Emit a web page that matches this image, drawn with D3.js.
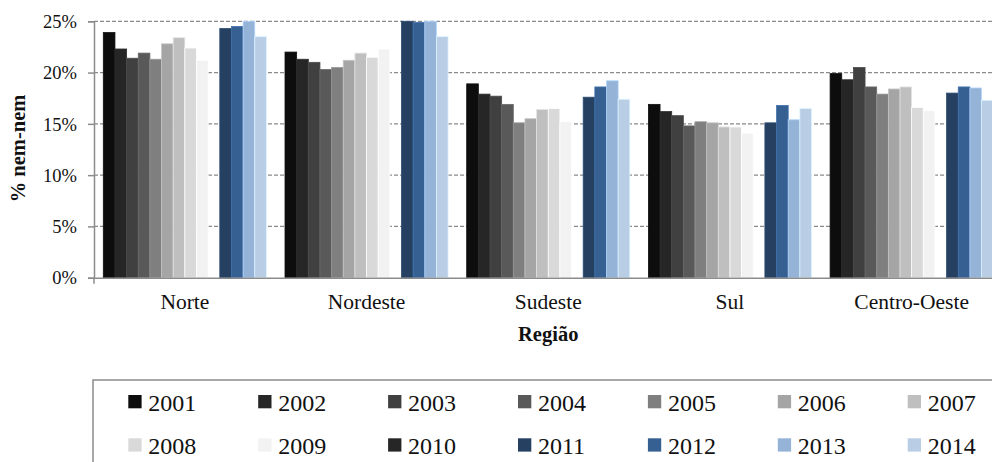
<!DOCTYPE html>
<html>
<head>
<meta charset="utf-8">
<script src="https://cdn.jsdelivr.net/npm/d3@7"></script>
<style>
  html, body { margin: 0; padding: 0; background: #fff; }
  svg text { font-family: "Liberation Serif", "DejaVu Serif", serif; }
</style>
</head>
<body>
<svg id="chart" width="992" height="462"></svg>
<script>
// Regions on the x axis
const regions = ["Norte", "Nordeste", "Sudeste", "Sul", "Centro-Oeste"];
// Survey years (no survey in 2010, so that series is empty)
const years = ["2001","2002","2003","2004","2005","2006","2007","2008","2009","2010","2011","2012","2013","2014"];

// Share of "nem-nem" youth (%), one array per year, in region order
const y2001 = [23.9, 22.0, 18.9, 16.9, 19.9];
const y2002 = [22.3, 21.3, 17.9, 16.2, 19.3];
const y2003 = [21.4, 21.0, 17.7, 15.8, 20.5];
const y2004 = [21.9, 20.3, 16.9, 14.8, 18.6];
const y2005 = [21.3, 20.5, 15.1, 15.2, 17.9];
const y2006 = [22.8, 21.2, 15.5, 15.1, 18.4];
const y2007 = [23.4, 21.9, 16.4, 14.7, 18.6];
const y2008 = [22.4, 21.5, 16.5, 14.7, 16.6];
const y2009 = [21.2, 22.3, 15.2, 14.1, 16.3];
const y2010 = [null, null, null, null, null];
const y2011 = [24.3, 25.3, 17.6, 15.1, 18.0];
const y2012 = [24.5, 24.9, 18.6, 16.8, 18.6];
const y2013 = [25.2, 25.2, 19.2, 15.4, 18.5];
const y2014 = [23.5, 23.5, 17.4, 16.5, 17.3];
const seriesValues = [y2001, y2002, y2003, y2004, y2005, y2006, y2007, y2008, y2009, y2010, y2011, y2012, y2013, y2014];

// Y axis ticks (%)
const yTicks = [0, 5, 10, 15, 20, 25];

const colors = ["#0d0d0d","#262626","#404040","#595959","#7f7f7f","#a5a5a5","#bfbfbf","#d9d9d9","#f2f2f2",
                "#262626","#254061","#366092","#95b3d7","#b9cde5"];

const FONT = '"Liberation Serif", "DejaVu Serif", serif';

const svg = d3.select("#chart");
const plot = { left: 94, right: 1002.5, top: 21.3, bottom: 277.7 };

const x0 = d3.scaleBand().domain(regions).range([plot.left, plot.right]);
const x1 = d3.scaleBand().domain(years).range([9.3, x0.bandwidth() - 9.3]);
const y = d3.scaleLinear().domain([0, 25]).range([plot.bottom, plot.top]).clamp(true);

const axisGray = "#8c8c8c";

// Dashed horizontal gridlines
svg.append("g")
  .selectAll("line")
  .data(yTicks.filter(t => t > 0))
  .join("line")
  .attr("x1", plot.left).attr("x2", 992)
  .attr("y1", d => y(d)).attr("y2", d => y(d))
  .attr("stroke", "#8a8a8a")
  .attr("stroke-width", 1.2)
  .attr("stroke-dasharray", "4,2");

// Bars
const rows = [];
regions.forEach((r, ri) => {
  years.forEach((yr, yi) => {
    const v = seriesValues[yi][ri];
    if (v != null) rows.push({ region: r, year: yr, value: v, color: colors[yi] });
  });
});

svg.append("g")
  .selectAll("rect")
  .data(rows)
  .join("rect")
  .attr("x", d => x0(d.region) + x1(d.year))
  .attr("width", x1.bandwidth())
  .attr("y", d => y(d.value))
  .attr("height", d => y(0) - y(d.value))
  .attr("fill", d => d.color)
  .attr("stroke", d => d3.color(d.color).brighter(0.5).formatHex())
  .attr("stroke-width", 0.8);

// Y axis
const yAxis = d3.axisLeft(y).tickValues(yTicks).tickSize(6).tickPadding(11)
  .tickFormat(d => d + "%");
const gy = svg.append("g").attr("transform", `translate(${plot.left},0)`).call(yAxis)
  .attr("font-family", FONT).attr("font-size", 18.5);
gy.select(".domain").attr("stroke", axisGray).attr("stroke-width", 1.5);
gy.selectAll(".tick line").attr("stroke", axisGray).attr("stroke-width", 1.5);
gy.selectAll(".tick text")
  .style("font-family", FONT)
  .attr("fill", "#111")
  .attr("dy", "0.34em");

// X axis
const xAxis = d3.axisBottom(x0).tickSize(0).tickPadding(0);
const gx = svg.append("g").attr("transform", `translate(0,${plot.bottom})`).call(xAxis)
  .attr("font-family", FONT).attr("font-size", 21.5);
gx.select(".domain").attr("stroke", axisGray).attr("stroke-width", 1.5);
gx.selectAll(".tick text")
  .style("font-family", FONT)
  .attr("fill", "#111")
  .attr("dy", null)
  .attr("y", 31.5);
// tick mark at the origin of the category axis
svg.append("line")
  .attr("x1", plot.left).attr("x2", plot.left)
  .attr("y1", plot.bottom).attr("y2", plot.bottom + 6)
  .attr("stroke", axisGray).attr("stroke-width", 1.5);

// Axis titles
svg.append("text")
  .attr("transform", `translate(25,${(94 + 203) / 2}) rotate(-90)`)
  .attr("text-anchor", "middle")
  .attr("font-weight", "bold")
  .attr("font-size", 20.5)
  .style("font-family", FONT)
  .attr("fill", "#111")
  .text("% nem-nem");

svg.append("text")
  .attr("x", (plot.left + plot.right) / 2)
  .attr("y", 341)
  .attr("text-anchor", "middle")
  .attr("font-weight", "bold")
  .attr("font-size", 20.5)
  .style("font-family", FONT)
  .attr("fill", "#111")
  .text("Região");

// Legend
const legend = svg.append("g");
legend.append("rect")
  .attr("x", 93).attr("y", 380)
  .attr("width", 920).attr("height", 100)
  .attr("fill", "none")
  .attr("stroke", "#8c8c8c")
  .attr("stroke-width", 1.5);

const perRow = 7;
const items = legend.selectAll("g.item")
  .data(years.map((yr, i) => ({ year: yr, color: colors[i], col: i % perRow, row: Math.floor(i / perRow) })))
  .join("g")
  .attr("class", "item")
  .attr("transform", d => `translate(${128.3 + d.col * 129.9},${395 + d.row * 43.3})`);
items.append("rect")
  .attr("width", 13.3).attr("height", 13.3)
  .attr("fill", d => d.color);
items.append("text")
  .attr("x", 20).attr("y", 15.7)
  .attr("font-size", 24)
  .style("font-family", FONT)
  .attr("fill", "#111")
  .text(d => d.year);
</script>
</body>
</html>
